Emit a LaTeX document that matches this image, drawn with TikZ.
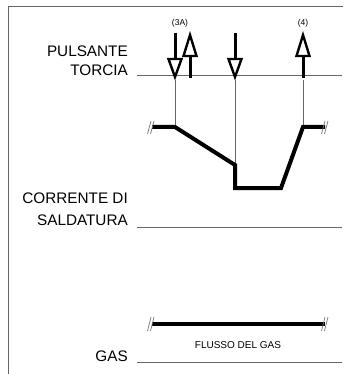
\documentclass[tikz,border=0pt]{standalone}
\usepackage{fontspec}
\setmainfont{Liberation Sans}
\begin{document}
\begin{tikzpicture}[x=1pt,y=-1pt,
  frameline/.style={draw=black!60, line width=1pt},
  thinline/.style={draw=black!60, line width=0.8pt},
  thickline/.style={draw=black, line width=4pt, line join=miter},
  breakmark/.style={draw=black!55, line width=0.7pt},
  shaft/.style={draw=black, line width=3pt},
  openhead/.style={draw=black, fill=white, line width=2.4pt, line join=miter},
  biglabel/.style={font=\fontsize{15.3}{18}\selectfont, anchor=base east, inner sep=0pt},
  smalllabel/.style={font=\fontsize{8.5}{10}\selectfont, anchor=base, inner sep=0pt},
  midlabel/.style={font=\fontsize{10}{12}\selectfont, anchor=base, inner sep=0pt}]
\useasboundingbox (0,0) rectangle (343,374);
% frame
\draw[frameline] (8,374) -- (8,7) -- (343,7);
% labels
\node[biglabel] (l1) at (128,57) {PULSANTE};
\node[biglabel] (l2) at (128,76) {TORCIA};
\node[biglabel] (l3) at (128,203) {CORRENTE DI};
\node[biglabel] (l4) at (128,225) {SALDATURA};
\node[biglabel] (l5) at (128,361) {GAS};
% baselines
\coordinate (p0) at (137,75);  \coordinate (p1) at (342,75);
\coordinate (c0) at (137,227); \coordinate (c1) at (342,227);
\coordinate (g0) at (137,362); \coordinate (g1) at (342,362);
\draw[thinline] (p0) -- (p1);
\draw[thinline] (c0) -- (c1);
\draw[thinline] (g0) -- (g1);
% arrows
\draw[shaft] (175,33) -- (175,60);
\draw[openhead] (168.5,59) -- (181.5,59) -- (175,77) -- cycle;
\draw[shaft] (190,55) -- (190,78);
\draw[openhead] (183.5,56) -- (196.5,56) -- (190,35) -- cycle;
\draw[shaft] (235,33) -- (235,60);
\draw[openhead] (228.5,59) -- (241.5,59) -- (235,77) -- cycle;
\draw[shaft] (303,55) -- (303,78);
\draw[openhead] (296.5,56) -- (309.5,56) -- (303,35) -- cycle;
\node[smalllabel] (t3a) at (180,26) {(3A)};
\node[smalllabel] (t4) at (303,26) {(4)};
% waveform
\coordinate (w0) at (152,127);
\coordinate (w1) at (175,127);
\coordinate (w2) at (235,165);
\coordinate (w3) at (235,188);
\coordinate (w4) at (281,188);
\coordinate (w5) at (303,127);
\coordinate (w6) at (325,127);
\draw[thinline] (175,80) -- (w1);
\draw[thinline] (235,80) -- (w2);
\draw[thinline] (303,80) -- (w5);
\draw[thickline] (w0) -- (w1) -- (w2) -- (w3) -- (w4) -- (w5) -- (w6);
\draw[breakmark] (147.5,134) -- (151,121) (150.5,134) -- (154,121);
\draw[breakmark] (321.5,134) -- (325,121) (324.5,134) -- (328,121);
% gas
\coordinate (f0) at (152,324);
\coordinate (f1) at (325,324);
\draw[thickline] (f0) -- (f1);
\draw[breakmark] (147.5,331) -- (151,317) (150.5,331) -- (154,317);
\draw[breakmark] (321.5,331) -- (325,317) (324.5,331) -- (328,317);
\node[midlabel] (fl) at (238,348) {FLUSSO DEL GAS};
\end{tikzpicture}
\end{document}
